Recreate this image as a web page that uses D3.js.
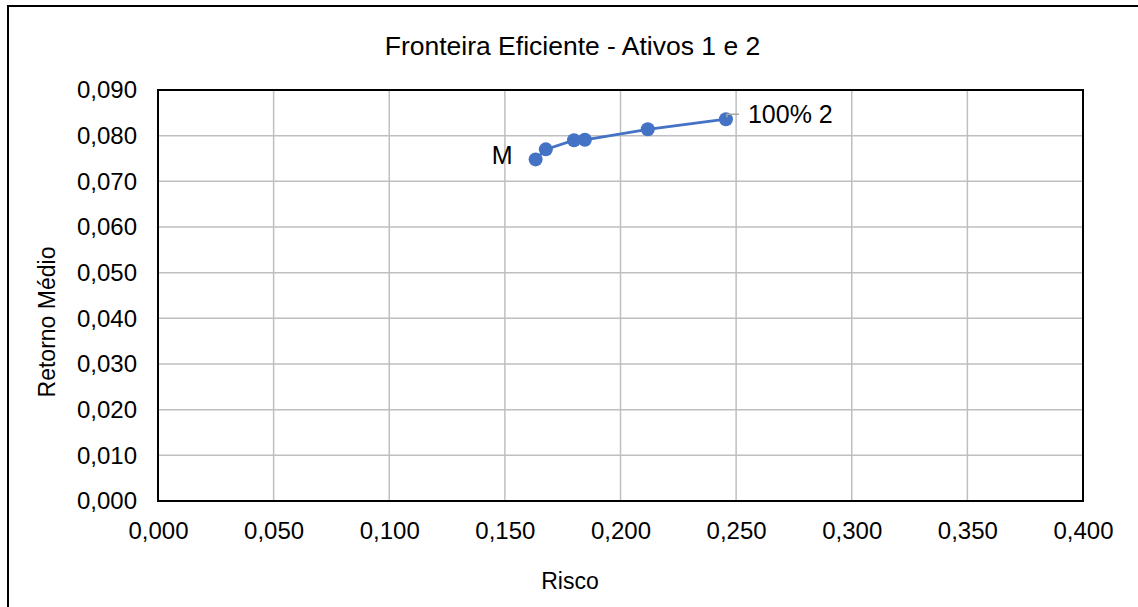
<!DOCTYPE html>
<html>
<head>
<meta charset="utf-8">
<script src="https://cdn.jsdelivr.net/npm/d3@7"></script>
<style>
  html, body { margin: 0; padding: 0; background: #fff; }
  svg { display: block; font-family: "Liberation Sans", Arial, sans-serif; }
</style>
</head>
<body>
<svg id="chart" width="1138" height="607"></svg>
<script>
// Efficient frontier of a two-asset portfolio: risk (std dev) vs mean return
const risco   = [0.1633, 0.1677, 0.1799, 0.1846, 0.2118, 0.2456];
const retorno = [0.0748, 0.0770, 0.0790, 0.0791, 0.0814, 0.0836];
const rotulos = ["M", "", "", "", "", "100% 2"];

const xTicks = [0, 0.05, 0.1, 0.15, 0.2, 0.25, 0.3, 0.35, 0.4];
const yTicks = [0, 0.01, 0.02, 0.03, 0.04, 0.05, 0.06, 0.07, 0.08, 0.09];

const titulo = "Fronteira Eficiente - Ativos 1 e 2";
const tituloX = "Risco";
const tituloY = "Retorno Médio";

const svg = d3.select("#chart");
const W = 1138, H = 607;
const plot = { left: 158, right: 1083, top: 90, bottom: 501 };
const blue = "#4472C4";
const fmt = v => d3.format(".3f")(v).replace(".", ",");

svg.append("rect").attr("width", W).attr("height", H).attr("fill", "#fff");

// chart frame (runs past the right and bottom edges)
svg.append("rect")
  .attr("x", 8).attr("y", 6).attr("width", W + 10).attr("height", H + 10)
  .attr("fill", "none").attr("stroke", "#000").attr("stroke-width", 2);

const x = d3.scaleLinear().domain([0, 0.4]).range([plot.left, plot.right]);
const y = d3.scaleLinear().domain([0, 0.09]).range([plot.bottom, plot.top]);

// gridlines
svg.append("g").selectAll("line").data(xTicks).join("line")
  .attr("x1", d => x(d)).attr("x2", d => x(d))
  .attr("y1", plot.top).attr("y2", plot.bottom)
  .attr("stroke", "#bfbfbf").attr("stroke-width", 1.5);
svg.append("g").selectAll("line").data(yTicks).join("line")
  .attr("y1", d => y(d)).attr("y2", d => y(d))
  .attr("x1", plot.left).attr("x2", plot.right)
  .attr("stroke", "#bfbfbf").attr("stroke-width", 1.5);

// plot area border
svg.append("rect")
  .attr("x", plot.left).attr("y", plot.top)
  .attr("width", plot.right - plot.left).attr("height", plot.bottom - plot.top)
  .attr("fill", "none").attr("stroke", "#000").attr("stroke-width", 2);

// axes (labels only; lines drawn by the border/grid)
const xAxis = svg.append("g")
  .attr("transform", `translate(0,${plot.bottom})`)
  .call(d3.axisBottom(x).tickValues(xTicks).tickFormat(fmt).tickSize(0).tickPadding(21));
const yAxis = svg.append("g")
  .attr("transform", `translate(${plot.left},0)`)
  .call(d3.axisLeft(y).tickValues(yTicks).tickFormat(fmt).tickSize(0).tickPadding(21));
[xAxis, yAxis].forEach(g => {
  g.select(".domain").remove();
  g.selectAll("text").attr("font-size", 24).attr("fill", "#000")
    .attr("font-family", "'Liberation Sans', Arial, sans-serif");
});

// titles
svg.append("text").attr("x", 572.5).attr("y", 55)
  .attr("text-anchor", "middle").attr("font-size", 26.5).text(titulo);
svg.append("text").attr("x", 570).attr("y", 589)
  .attr("text-anchor", "middle").attr("font-size", 23).text(tituloX);
svg.append("text")
  .attr("transform", "translate(55,322) rotate(-90)")
  .attr("text-anchor", "middle").attr("font-size", 23).text(tituloY);

// frontier line and markers
const pts = risco.map((r, i) => ({ x: r, y: retorno[i], label: rotulos[i] }));
svg.append("path")
  .datum(pts)
  .attr("d", d3.line().x(d => x(d.x)).y(d => y(d.y)))
  .attr("fill", "none").attr("stroke", blue).attr("stroke-width", 2.75);
svg.append("g").selectAll("circle").data(pts).join("circle")
  .attr("cx", d => x(d.x)).attr("cy", d => y(d.y)).attr("r", 7)
  .attr("fill", blue);

// data labels
const first = pts[0], last = pts[pts.length - 1];
svg.append("text")
  .attr("x", x(first.x) - 23).attr("y", y(first.y) + 5)
  .attr("text-anchor", "end").attr("font-size", 25).text(first.label);
svg.append("polyline")
  .attr("points", [[x(last.x) + 1, y(last.y) - 2], [x(last.x) + 1, y(last.y) - 5], [x(last.x) + 13, y(last.y) - 5]].join(" "))
  .attr("fill", "none").attr("stroke", "#a6a6a6").attr("stroke-width", 1.5);
svg.append("text")
  .attr("x", x(last.x) + 22).attr("y", y(last.y) + 4)
  .attr("font-size", 25).text(last.label);
</script>
</body>
</html>
